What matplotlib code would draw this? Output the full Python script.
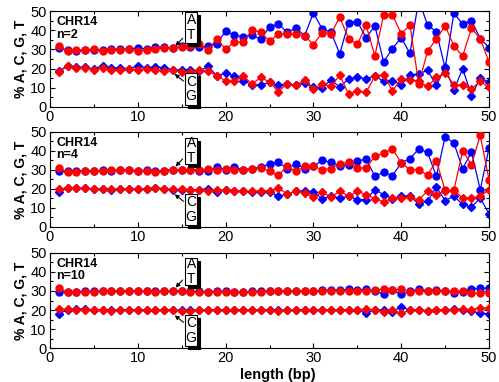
import matplotlib

matplotlib.use("Agg")
import matplotlib.pyplot as plt
from matplotlib.patches import Rectangle
from matplotlib.ticker import MultipleLocator

plt.rcParams["font.family"] = ["Liberation Sans", "DejaVu Sans"]

# base position along the read
length = list(range(1, 51))

# n = 2
a_n2 = [31.0, 29.5, 29.3, 29.5, 29.8, 29.6, 30.0, 30.2, 30.0, 30.9,
        30.2, 31.2, 31.2, 30.6, 31.7, 31.5, 31.2, 31.7, 33.0, 39.6,
        37.4, 36.7, 37.5, 35.3, 41.7, 43.4, 38.9, 41.1, 37.2, 49.0,
        40.7, 39.0, 27.7, 44.0, 44.5, 36.1, 42.3, 23.5, 30.4, 36.1,
        27.9, 56.0, 42.6, 39.3, 20.2, 48.9, 43.2, 44.9, 35.7, 31.0]
t_n2 = [31.7, 29.1, 29.6, 29.8, 30.2, 29.1, 29.8, 29.8, 30.2, 29.1,
        29.6, 30.2, 30.9, 30.9, 31.2, 31.7, 32.6, 29.8, 35.6, 30.1,
        33.9, 33.9, 40.0, 39.1, 34.2, 38.0, 37.8, 38.0, 37.2, 32.5,
        38.8, 38.2, 46.8, 35.7, 32.6, 42.6, 26.7, 48.1, 48.1, 38.2,
        42.7, 11.9, 29.1, 35.4, 42.3, 31.8, 26.5, 41.1, 35.6, 23.5]
c_n2 = [18.6, 21.6, 20.7, 20.7, 19.8, 21.6, 20.4, 20.4, 19.8, 21.6,
        20.4, 20.9, 20.4, 19.5, 19.2, 19.5, 18.6, 21.2, 16.3, 17.7,
        16.3, 13.7, 11.6, 11.6, 12.8, 11.2, 12.1, 11.2, 12.5, 10.2,
        9.8, 14.2, 10.3, 14.7, 15.6, 14.7, 16.3, 13.3, 13.7, 11.6,
        16.5, 17.2, 19.1, 11.2, 20.7, 8.9, 20.0, 5.9, 15.1, 13.0]
g_n2 = [18.4, 21.2, 20.4, 20.4, 19.5, 20.4, 19.5, 19.5, 19.8, 19.5,
        19.8, 19.2, 18.9, 19.5, 18.1, 18.1, 19.5, 18.6, 16.3, 13.7,
        13.3, 16.3, 12.0, 15.4, 13.0, 8.0, 12.1, 11.2, 14.2, 9.4,
        12.0, 10.7, 16.5, 6.8, 8.4, 7.7, 16.0, 16.8, 8.4, 14.7,
        14.2, 13.3, 10.7, 15.4, 17.7, 11.6, 11.2, 9.5, 13.3, 10.2]

# n = 4
a_n4 = [29.6, 29.3, 29.4, 29.6, 29.5, 29.8, 29.7, 29.9, 29.8, 29.6,
        29.8, 29.5, 29.7, 30.2, 30.0, 30.0, 29.6, 29.3, 31.6, 30.2,
        31.5, 30.2, 30.7, 31.4, 33.2, 34.0, 30.7, 33.3, 30.7, 31.9,
        35.1, 34.0, 32.2, 32.8, 34.6, 35.8, 26.7, 28.8, 27.0, 33.7,
        36.0, 41.1, 39.3, 26.7, 47.4, 44.2, 30.7, 39.5, 19.6, 41.6]
t_n4 = [31.2, 28.8, 29.1, 29.3, 29.5, 29.6, 29.8, 29.8, 29.9, 29.7,
        29.6, 28.8, 29.5, 30.0, 30.2, 30.2, 30.2, 30.6, 30.0, 30.4,
        30.0, 30.2, 30.7, 31.1, 29.3, 27.2, 31.9, 29.3, 31.9, 31.9,
        30.2, 30.7, 33.4, 34.0, 31.1, 31.1, 37.2, 38.9, 41.2, 33.7,
        30.2, 30.2, 27.2, 34.9, 19.3, 19.3, 40.2, 32.8, 48.2, 24.9]
c_n4 = [18.3, 20.4, 20.5, 20.3, 20.0, 19.8, 19.7, 19.8, 19.9, 20.0,
        20.0, 20.4, 20.0, 19.4, 19.6, 19.6, 19.6, 20.2, 18.6, 19.6,
        18.8, 18.8, 18.4, 18.4, 18.4, 16.2, 17.4, 18.8, 18.8, 18.4,
        14.9, 16.2, 15.3, 16.2, 14.4, 14.4, 19.6, 17.0, 14.9, 16.2,
        16.2, 12.1, 13.5, 21.0, 13.9, 16.2, 11.9, 10.4, 15.3, 6.9]
g_n4 = [19.8, 20.7, 20.5, 20.4, 20.1, 20.0, 19.8, 19.9, 19.8, 20.0,
        20.1, 20.7, 20.2, 19.8, 19.8, 19.6, 19.6, 19.2, 19.6, 19.3,
        18.8, 19.1, 18.8, 19.1, 19.1, 20.5, 17.4, 18.8, 17.9, 15.6,
        18.4, 15.6, 18.9, 16.2, 18.8, 17.0, 14.9, 13.2, 15.3, 15.3,
        15.6, 14.4, 18.8, 17.0, 19.1, 19.1, 15.3, 15.3, 16.2, 19.6]

# n = 10
a_n10 = [29.4, 29.6, 29.7, 29.9, 29.8, 30.0, 30.0, 30.1, 30.2, 30.0,
         29.9, 29.8, 29.9, 30.0, 29.9, 29.8, 29.8, 29.7, 29.8, 29.8,
         29.7, 29.6, 29.8, 29.8, 30.0, 30.1, 30.0, 29.9, 30.0, 30.1,
         30.3, 30.5, 30.3, 30.8, 30.4, 31.0, 29.8, 28.5, 30.4, 28.2,
         30.0, 30.8, 30.2, 30.6, 29.8, 29.2, 29.6, 31.2, 31.4, 31.6]
t_n10 = [31.5, 29.4, 29.4, 29.6, 29.7, 29.9, 30.1, 30.1, 29.9, 29.8,
         29.8, 29.7, 29.8, 30.0, 29.8, 29.7, 29.7, 29.6, 29.6, 29.7,
         29.5, 29.5, 29.6, 29.7, 29.9, 30.1, 29.9, 29.8, 29.9, 30.0,
         30.1, 30.2, 30.1, 30.0, 30.0, 29.8, 30.3, 31.2, 30.6, 30.9,
         29.7, 30.1, 29.9, 30.2, 29.8, 30.2, 29.9, 28.9, 28.9, 28.9]
c_n10 = [18.0, 20.1, 20.6, 20.4, 20.0, 19.8, 19.9, 20.0, 20.1, 19.9,
         20.0, 20.1, 20.0, 19.8, 19.8, 19.9, 20.0, 20.0, 20.1, 20.2,
         20.1, 20.0, 19.9, 19.9, 20.0, 19.8, 19.9, 20.0, 20.0, 19.9,
         19.8, 19.9, 20.0, 20.0, 20.0, 18.4, 20.2, 20.0, 18.9, 21.8,
         19.8, 20.0, 19.6, 19.8, 20.0, 20.5, 20.2, 19.6, 18.2, 18.0]
g_n10 = [20.6, 20.3, 20.2, 20.2, 20.0, 19.8, 19.7, 19.8, 20.0, 19.8,
         19.9, 20.0, 19.9, 19.8, 19.7, 19.7, 19.9, 20.0, 19.9, 20.0,
         20.1, 20.0, 19.8, 19.8, 19.9, 19.7, 19.8, 19.9, 20.0, 19.8,
         19.8, 19.9, 19.9, 19.9, 20.0, 20.6, 19.8, 19.2, 20.2, 18.2,
         20.0, 20.0, 19.7, 20.2, 20.2, 20.2, 20.4, 20.2, 21.2, 21.0]

panel_labels = ["n=2", "n=4", "n=10"]

BLUE, RED = "#0000ff", "#ff0000"

fig = plt.figure(figsize=(4.99, 3.82), dpi=100)
rects = [(0.1002, 0.720, 0.8798, 0.251),
         (0.1002, 0.4058, 0.8798, 0.2487),
         (0.1002, 0.089, 0.8798, 0.2487)]
panels = [(a_n2, t_n2, c_n2, g_n2), (a_n4, t_n4, c_n4, g_n4),
          (a_n10, t_n10, c_n10, g_n10)]


def letter_box(ax, x0, y0, y1, letters):
    # white box with a black drop shadow, two stacked letters
    w = 1.35
    h = y1 - y0
    ax.add_patch(Rectangle((x0 + 0.35, y0 - 1.6), w, h, facecolor="black",
                           edgecolor="black", lw=0.8, clip_on=False, zorder=5))
    ax.add_patch(Rectangle((x0, y0), w, h, facecolor="white",
                           edgecolor="black", lw=0.8, clip_on=False, zorder=6))
    ax.text(x0 + w / 2, y0 + h / 2, letters, ha="center", va="center",
            fontsize=10, linespacing=1.05, zorder=7)


for i, (ax_rect, (a, t, c, g), lab) in enumerate(zip(rects, panels, panel_labels)):
    ax = fig.add_axes(ax_rect)
    ax.plot(length, a, "-o", color=BLUE, ms=5.0, lw=0.9, mec=BLUE, zorder=2)
    ax.plot(length, c, "-D", color=BLUE, ms=3.8, lw=0.9, mec=BLUE, zorder=2)
    ax.plot(length, t, "-o", color=RED, ms=5.0, lw=0.9, mec=RED, zorder=3)
    ax.plot(length, g, "-D", color=RED, ms=3.8, lw=0.9, mec=RED, zorder=3)

    ax.set_xlim(0, 50)
    ax.set_ylim(0, 50)
    ax.xaxis.set_major_locator(MultipleLocator(10))
    ax.xaxis.set_minor_locator(MultipleLocator(5))
    ax.yaxis.set_major_locator(MultipleLocator(10))
    ax.yaxis.set_minor_locator(MultipleLocator(5))
    ax.tick_params(which="both", direction="in", top=True, right=True,
                   labelsize=10.5, width=0.8)
    ax.tick_params(axis="x", pad=2.2)
    ax.tick_params(axis="y", pad=2.5)
    ax.tick_params(which="major", length=3.5)
    ax.tick_params(which="minor", length=2)
    for s in ax.spines.values():
        s.set_linewidth(0.8)

    ax.set_ylabel("% A, C, G, T", fontsize=10, fontweight="bold", labelpad=2)
    ax.text(0.015, 0.885, "CHR14", transform=ax.transAxes, fontsize=9,
            fontweight="bold", va="center")
    ax.text(0.015, 0.755, lab, transform=ax.transAxes, fontsize=9,
            fontweight="bold", va="center")

    top_y = [49.5, 47.0, 47.5][i]
    letter_box(ax, 15.4, 33.3, top_y, "A\nT")
    letter_box(ax, 15.4, 1.0, 17.5, "C\nG")
    ax.annotate("", xy=(14.3, 31.8), xytext=(15.1, 35.8),
                arrowprops=dict(arrowstyle="-|>", lw=0.8, color="black",
                                mutation_scale=6, shrinkA=0, shrinkB=0))
    ax.annotate("", xy=(14.2, 17.2), xytext=(15.2, 13.5),
                arrowprops=dict(arrowstyle="-|>", lw=0.8, color="black",
                                mutation_scale=6, shrinkA=0, shrinkB=0))

    if i == 2:
        ax.set_xlabel("length (bp)", fontsize=10.5, fontweight="bold",
                      labelpad=2, x=0.52)

fig.savefig("out.png", dpi=100)
